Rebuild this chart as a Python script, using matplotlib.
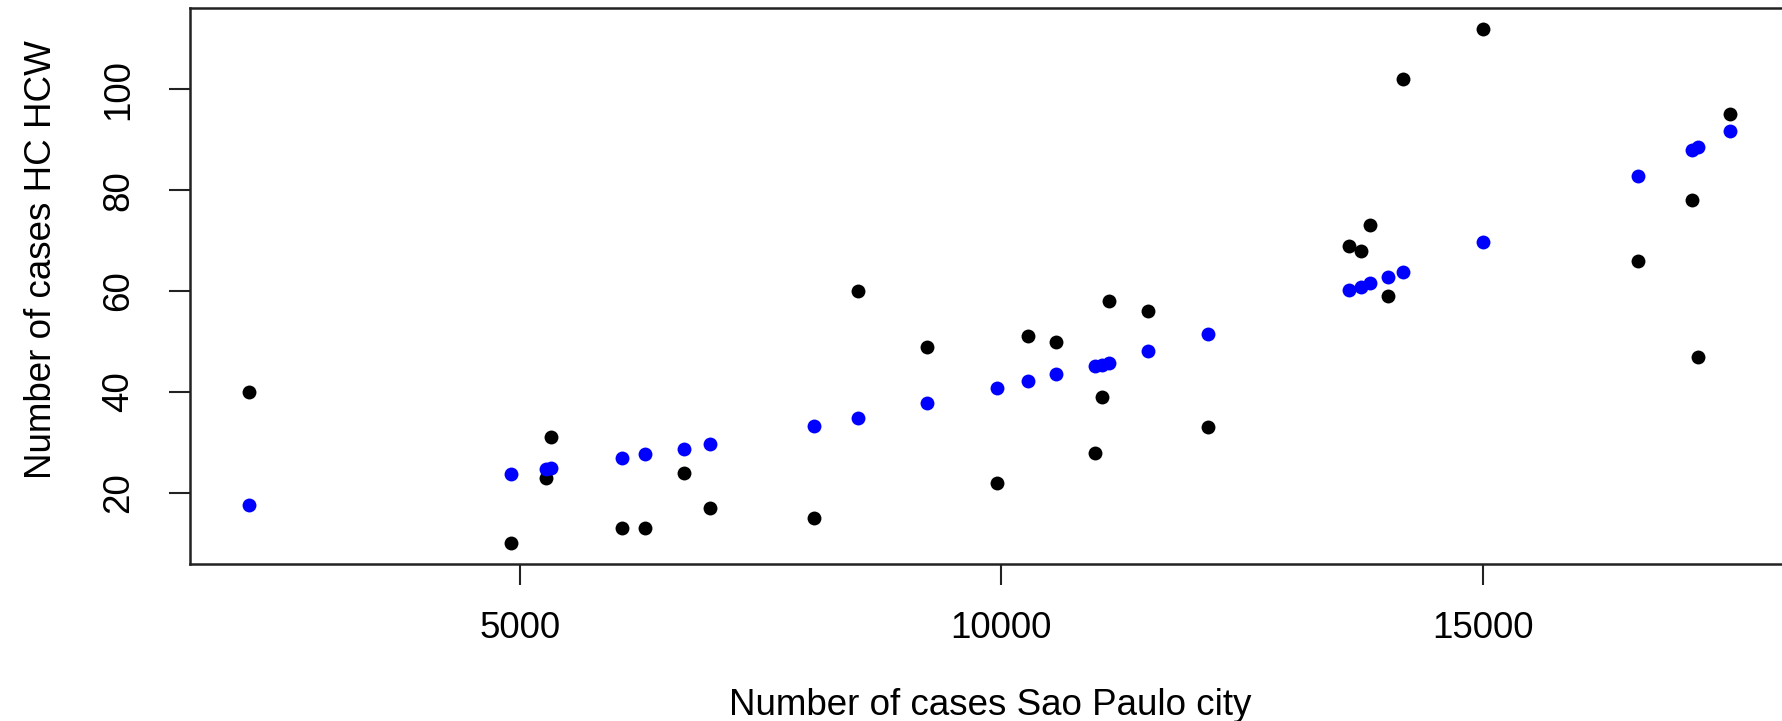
import matplotlib
matplotlib.use("Agg")
import matplotlib.pyplot as plt
import numpy as np

# cases in Sao Paulo city (x) vs cases among HC health care workers (y)
sp_cases = [2193, 4906, 5271, 5330, 6061, 6297, 6710, 6981, 8054, 8514,
            9233, 9953, 10283, 10566, 10979, 11050, 11120, 11521, 12146,
            13608, 13738, 13833, 14021, 14175, 15000, 16616, 17170, 17241, 17571]
hcw_observed = [40, 10, 23, 31, 13, 13, 24, 17, 15, 60,
                49, 22, 51, 50, 28, 39, 58, 56, 33,
                69, 68, 73, 59, 102, 112, 66, 78, 47, 95]
hcw_fitted = [17.7, 23.8, 24.7, 25.0, 27.0, 27.7, 28.8, 29.7, 33.3, 34.9,
              37.9, 40.8, 42.1, 43.5, 45.1, 45.3, 45.8, 48.2, 51.4,
              60.2, 60.9, 61.6, 62.7, 63.8, 69.7, 82.8, 88.0, 88.5, 91.7]
x_ticks = [5000, 10000, 15000]
y_ticks = [20, 40, 60, 80, 100]

plt.rcParams['font.family'] = ['Liberation Sans', 'DejaVu Sans']

fig = plt.figure(figsize=(17.83, 7.21), dpi=100)
ax = fig.add_axes([0.1066, 0.2178, 0.897, 0.771])

ax.plot(sp_cases, hcw_observed, 'o', color='black', markersize=10, markeredgewidth=0)
ax.plot(sp_cases, hcw_fitted, 'o', color='#0000ff', markersize=10, markeredgewidth=0)

# R style axis limits: data range extended by 4%
xmin, xmax = min(sp_cases), max(sp_cases)
ymin = min(hcw_observed + hcw_fitted)
ymax = max(hcw_observed + hcw_fitted)
dx = (xmax - xmin) * 0.04
dy = (ymax - ymin) * 0.04
ax.set_xlim(xmin - dx, xmax + dx)
ax.set_ylim(ymin - dy, ymax + dy)

ax.set_xticks(x_ticks)
ax.set_xticklabels([str(t) for t in x_ticks])
ax.set_yticks(y_ticks)
ax.set_yticklabels([str(t) for t in y_ticks], rotation=90, va='center')

ax.tick_params(axis='both', length=15, width=1.5, labelsize=26.5, color='#222222')
ax.tick_params(axis='x', pad=19)
ax.tick_params(axis='y', pad=24)
for s in ax.spines.values():
    s.set_linewidth(1.8)
    s.set_color('#222222')

ax.set_xlabel('Number of cases Sao Paulo city', fontsize=26.5, labelpad=30)
ax.set_ylabel('Number of cases HC HCW', fontsize=26.5)
ax.yaxis.set_label_coords(-0.082, 0.548)

fig.savefig('out.png', dpi=100)
